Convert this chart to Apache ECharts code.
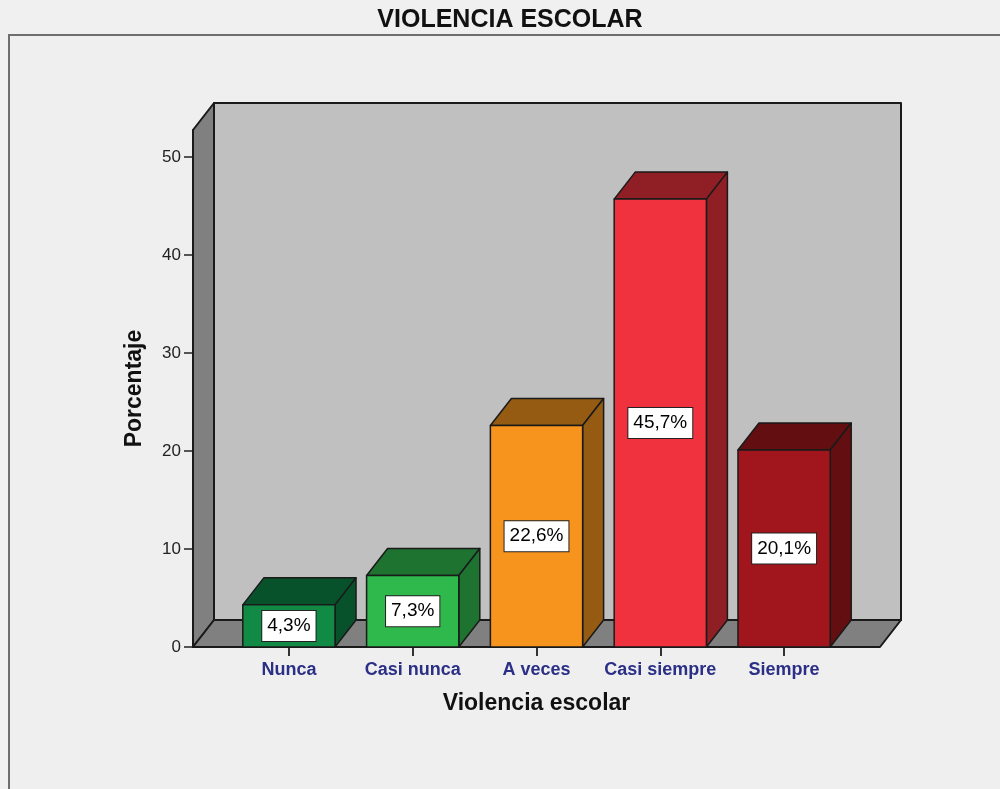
<!DOCTYPE html>
<html>
<head>
<meta charset="utf-8">
<script src="https://cdn.jsdelivr.net/npm/echarts@6/dist/echarts.min.js"></script>
<style>
  html, body { margin: 0; padding: 0; background: #f0f0f0; }
  #main { width: 1000px; height: 789px; }
</style>
</head>
<body>
<div id="main"></div>
<script>
var categories = ['Nunca', 'Casi nunca', 'A veces', 'Casi siempre', 'Siempre'];
var percentages = [4.3, 7.3, 22.6, 45.7, 20.1];
var frontColors = ['#118a46', '#2fb84b', '#f7941e', '#ef323d', '#a1161c'];
var sideColors = ['#07522a', '#1e7331', '#955b13', '#8f1f25', '#630e11'];
var yTicks = [0, 10, 20, 30, 40, 50];

var Y_MAX = 52.75;
var DEPTH = [21, -27];   // 3d offset in px
var SIDE_PAD = 34;       // floor reaches past the first/last band
var BAR_RATIO = 0.745;
var EDGE = '#1a1a1a';

function fmt(v) {
  return v.toFixed(1).replace('.', ',') + '%';
}

function renderWalls(params, api) {
  var cs = params.coordSys;
  var dx = DEPTH[0], dy = DEPTH[1];
  var L = cs.x - SIDE_PAD, R = cs.x + cs.width + SIDE_PAD;
  var T = cs.y, B = cs.y + cs.height;
  var st = { stroke: EDGE, lineWidth: 2, lineJoin: 'round' };
  return {
    type: 'group',
    children: [
      { type: 'polygon', shape: { points: [[L + dx, T + dy], [R + dx, T + dy], [R + dx, B + dy], [L + dx, B + dy]] },
        style: Object.assign({ fill: '#c0c0c0' }, st) },
      { type: 'polygon', shape: { points: [[L, T], [L + dx, T + dy], [L + dx, B + dy], [L, B]] },
        style: Object.assign({ fill: '#808080' }, st) },
      { type: 'polygon', shape: { points: [[L, B], [L + dx, B + dy], [R + dx, B + dy], [R, B]] },
        style: Object.assign({ fill: '#808080' }, st) }
    ]
  };
}

function renderBar(params, api) {
  var idx = api.value(0), val = api.value(1);
  var base = api.coord([idx, 0]);
  var top = api.coord([idx, val]);
  var w = api.size([1, 0])[0] * BAR_RATIO;
  var x0 = base[0] - w / 2, x1 = base[0] + w / 2;
  var y0 = base[1], y1 = top[1];
  var dx = DEPTH[0], dy = DEPTH[1];
  var st = { stroke: EDGE, lineWidth: 1.5, lineJoin: 'round' };
  return {
    type: 'group',
    children: [
      { type: 'polygon', shape: { points: [[x0, y1], [x0 + dx, y1 + dy], [x1 + dx, y1 + dy], [x1, y1]] },
        style: Object.assign({ fill: sideColors[idx] }, st) },
      { type: 'polygon', shape: { points: [[x1, y1], [x1 + dx, y1 + dy], [x1 + dx, y0 + dy], [x1, y0]] },
        style: Object.assign({ fill: sideColors[idx] }, st) },
      { type: 'polygon', shape: { points: [[x0, y1], [x1, y1], [x1, y0], [x0, y0]] },
        style: Object.assign({ fill: frontColors[idx] }, st) },
      { type: 'text', x: base[0], y: (y0 + y1) / 2,
        style: {
          text: fmt(val), fill: '#000',
          font: '19px "Liberation Sans", Arial, sans-serif',
          align: 'center', verticalAlign: 'middle',
          backgroundColor: '#fff', borderColor: '#222', borderWidth: 1,
          padding: [6, 5, 5, 5]
        } }
    ]
  };
}

var chart = echarts.init(document.getElementById('main'));
var option = {
  backgroundColor: '#f0f0f0',
  animation: false,
  title: {
    text: 'VIOLENCIA ESCOLAR',
    left: 510,
    textAlign: 'center',
    top: 8,
    padding: 0,
    textStyle: { fontFamily: '"Liberation Sans", Arial, sans-serif', fontSize: 25, fontWeight: 'bold', color: '#111' }
  },
  graphic: [
    { type: 'rect', left: 8, top: 34, z: -10,
      shape: { width: 1010, height: 800 },
      style: { fill: '#efefef', stroke: '#6e6e6e', lineWidth: 2 } }
  ],
  grid: { left: 227, right: 154, top: 130, bottom: 142 },
  xAxis: {
    type: 'category',
    data: categories,
    name: 'Violencia escolar',
    nameLocation: 'middle',
    nameGap: 45,
    nameTextStyle: { fontFamily: '"Liberation Sans", Arial, sans-serif', fontSize: 23, fontWeight: 'bold', color: '#111' },
    axisLine: { show: false },
    axisTick: { show: true, alignWithLabel: true, interval: 0, length: 9, lineStyle: { color: '#333', width: 2 } },
    axisLabel: { interval: 0, margin: 14, fontFamily: '"Liberation Sans", Arial, sans-serif', fontSize: 18, fontWeight: 'bold', color: '#2b2f86' },
    splitLine: { show: false }
  },
  yAxis: {
    type: 'value',
    min: 0,
    max: Y_MAX,
    offset: SIDE_PAD,
    name: 'Porcentaje',
    nameLocation: 'middle',
    nameRotate: 90,
    nameGap: 47,
    nameTextStyle: { fontFamily: '"Liberation Sans", Arial, sans-serif', fontSize: 23, fontWeight: 'bold', color: '#111' },
    axisLine: { show: true, lineStyle: { color: EDGE, width: 2 } },
    axisTick: { show: true, customValues: yTicks, length: 9, lineStyle: { color: '#222', width: 1.5 } },
    axisLabel: { customValues: yTicks, margin: 12, fontFamily: '"Liberation Sans", Arial, sans-serif', fontSize: 17, color: '#222' },
    splitLine: { show: false }
  },
  series: [
    {
      type: 'custom',
      silent: true,
      z: 1,
      renderItem: renderWalls,
      data: [[0, Y_MAX]]
    },
    {
      type: 'custom',
      z: 3,
      renderItem: renderBar,
      encode: { x: 0, y: 1 },
      data: percentages.map(function (v, i) { return [i, v]; })
    }
  ]
};
chart.setOption(option);
</script>
</body>
</html>
